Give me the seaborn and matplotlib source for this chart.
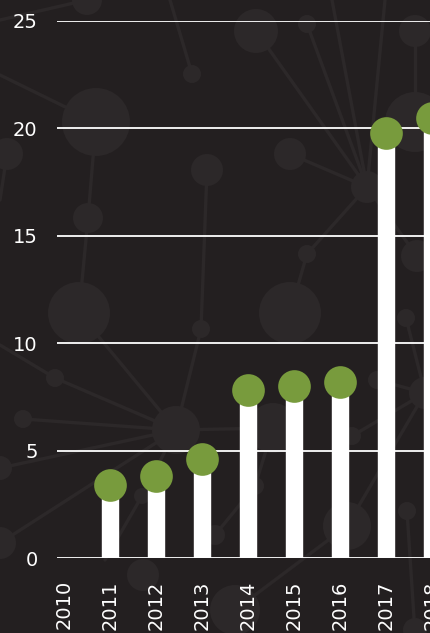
import matplotlib
matplotlib.use('Agg')
import matplotlib.pyplot as plt
import seaborn as sns
import pandas as pd
import numpy as np

# chart data
years = ['2010', '2011', '2012', '2013', '2014', '2015', '2016', '2017', '2018']
values = [np.nan, 3.4, 3.8, 4.6, 7.8, 8.0, 8.2, 19.8, 20.5]

bgColor = '#231f20'
nodeColor = '#2c2829'
green = '#789b3d'

# decorative network backdrop (pixel positions on the 431x633 canvas)
bgNodes = [(87, 0, 15), (192, 74, 9), (96, 122, 34), (7, 154, 16), (88, 218, 15),
           (79, 313, 31), (207, 170, 16), (201, 329, 9), (256, 31, 22), (307, 24, 9),
           (415, 31, 16), (415, 122, 30), (290, 154, 16), (367, 187, 16), (307, 254, 9),
           (290, 313, 31), (417, 256, 16), (406, 318, 9), (55, 378, 9), (23, 419, 9),
           (176, 430, 24), (0, 468, 12), (0, 543, 16), (142, 496, 8), (143, 575, 16),
           (377, 380, 9), (425, 393, 16), (273, 428, 25), (352, 436, 9), (255, 486, 9),
           (215, 535, 10), (347, 526, 24), (407, 511, 9), (235, 610, 25), (415, 630, 12)]
bgEdges = [((0, 75), (96, 122)), ((170, 0), (192, 74)), ((96, 122), (88, 218)),
           ((88, 218), (79, 313)), ((207, 170), (201, 329)), ((7, 154), (0, 200)),
           ((367, 187), (256, 31)), ((367, 187), (307, 24)), ((367, 187), (332, 0)),
           ((367, 187), (385, 0)), ((367, 187), (290, 154)), ((367, 187), (307, 254)),
           ((307, 254), (290, 313)), ((367, 187), (417, 256)), ((415, 31), (415, 122)),
           ((0, 345), (55, 378)), ((55, 378), (176, 430)), ((23, 419), (176, 430)),
           ((0, 468), (176, 430)), ((0, 543), (176, 430)), ((79, 313), (176, 430)),
           ((201, 329), (176, 430)), ((176, 430), (273, 428)), ((176, 430), (142, 496)),
           ((142, 496), (105, 560)), ((347, 526), (235, 610)), ((407, 511), (415, 633)),
           ((377, 380), (425, 393)), ((352, 436), (425, 393)), ((406, 318), (425, 393)),
           ((273, 428), (255, 486)), ((255, 486), (215, 535)), ((347, 526), (425, 393)),
           ((0, 20), (87, 0))]

sns.set_style('dark')
plt.rcParams['font.family'] = ['DejaVu Sans']

W, H = 431, 633
fig = plt.figure(figsize=(W / 100, H / 100), dpi=100)
fig.patch.set_facecolor(bgColor)

# backdrop
bg = fig.add_axes([0, 0, 1, 1])
bg.set_xlim(0, W)
bg.set_ylim(H, 0)
bg.axis('off')
for (x0, y0), (x1, y1) in bgEdges:
    bg.plot([x0, x1], [y0, y1], color=nodeColor, lw=2.4, solid_capstyle='round')
for x, y, r in bgNodes:
    bg.add_patch(plt.Circle((x, y), r, color=nodeColor, lw=0))

# main chart
axLeft, axRight, axTop, axBottom = 57, 460, 21, 558
ax = fig.add_axes([axLeft / W, (H - axBottom) / H, (axRight - axLeft) / W, (axBottom - axTop) / H])
ax.patch.set_alpha(0)

df = pd.DataFrame({'year': years, 'value': values})
sns.barplot(data=df, x='year', y='value', order=years, color='white', saturation=1,
            width=0.35, ax=ax, zorder=3, errorbar=None)
sns.pointplot(data=df, x='year', y='value', order=years, color=green, linestyle='none',
              markers='o', markersize=21.5, errorbar=None, ax=ax, zorder=4)
for c in ax.collections + ax.lines:
    c.set_clip_on(False)

ax.set_ylim(0, 25)
ax.set_yticks([0, 5, 10, 15, 20, 25])
ax.set_xlim((axLeft - 64) / 46, (axRight - 64) / 46)
ax.grid(axis='y', color='white', lw=1.3, zorder=1)
ax.grid(axis='x', visible=False)
ax.set_axisbelow(True)
for s in ax.spines.values():
    s.set_visible(False)
ax.tick_params(axis='y', length=0, pad=14, labelsize=14, labelcolor='white')
ax.tick_params(axis='x', length=0, pad=16, labelsize=14, labelcolor='white', labelrotation=90)
ax.set_xlabel('')
ax.set_ylabel('')

fig.savefig('out.png', dpi=100, facecolor=bgColor)
